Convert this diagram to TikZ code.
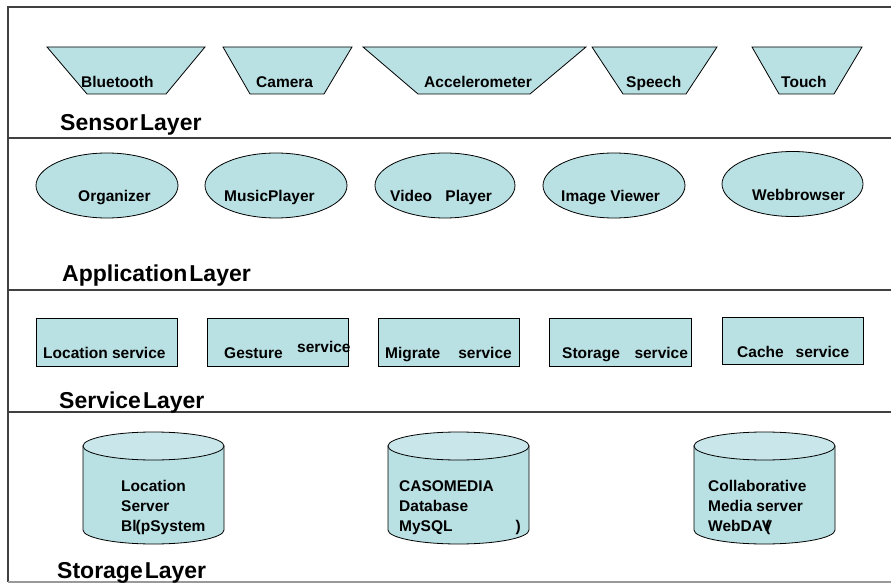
\documentclass[tikz,border=0pt]{standalone}
\usepackage{fontspec}
\setmainfont{Liberation Sans}
\definecolor{layerfill}{RGB}{185,224,227}
\definecolor{layertop}{RGB}{201,231,234}
\newcommand{\tightspace}{\spaceskip=2pt\relax}
\tikzset{
  shapebox/.style={fill=layerfill,draw=black,line width=0.8pt},
  itemtext/.style={font=\fontsize{15.5}{20}\selectfont\bfseries,inner sep=0pt,anchor=base west},
  storetext/.style={font=\fontsize{15.5}{20}\selectfont\bfseries,inner sep=0pt,anchor=north west,align=left},
  layertext/.style={font=\fontsize{23}{26}\selectfont\bfseries\tightspace,inner sep=0pt,anchor=base west},
  frameline/.style={draw=black!75,line width=1.2pt}
}

\begin{document}
\begin{tikzpicture}[x=1pt,y=-1pt]
  \useasboundingbox (0,0) rectangle (891,585);
  %
  % Frame and layer borders
  \draw[frameline] (8,582) -- (8,7) -- (891,7);
  \draw[frameline] (8,138) -- (891,138);
  \draw[frameline] (8,290) -- (891,290);
  \draw[frameline] (8,412) -- (891,412);
  \draw[draw=black!40,line width=1.2pt] (8,582) -- (891,582);
  %
  % Sensor layer
  \filldraw[shapebox] (47,47) -- (205,47) -- (166,94) -- (87,94) -- cycle;
  \filldraw[shapebox] (223,47) -- (352,47) -- (324,94) -- (250,94) -- cycle;
  \filldraw[shapebox] (363,47) -- (586,47) -- (530,94) -- (418,94) -- cycle;
  \filldraw[shapebox] (592,47) -- (717,47) -- (686,94) -- (623,94) -- cycle;
  \filldraw[shapebox] (752,47) -- (862,47) -- (834,94) -- (779,94) -- cycle;
  \node[itemtext] (bluetooth) at (81,88)  {Bluetooth};
  \node[itemtext] (camera)    at (256,88) {Camera};
  \node[itemtext] (accel)     at (424,88) {Accelerometer};
  \node[itemtext] (speech)    at (626,88) {Speech};
  \node[itemtext] (touch)     at (781,88) {Touch};
  \node[layertext] (sensorlayer) at (60,131) {Sensor Layer};
  %
  % Application layer
  \filldraw[shapebox] (107,185.5)   ellipse [x radius=71pt,y radius=32.5pt];
  \filldraw[shapebox] (276,185.5)   ellipse [x radius=71pt,y radius=32.5pt];
  \filldraw[shapebox] (445,185.5)   ellipse [x radius=70pt,y radius=32.5pt];
  \filldraw[shapebox] (614,185.5)   ellipse [x radius=71pt,y radius=32.5pt];
  \filldraw[shapebox] (792.5,184) ellipse [x radius=70.5pt,y radius=32.5pt];
  \node[itemtext] (organizer) at (78,202)  {Organizer};
  \node[itemtext] (music)     at (224,202) {MusicPlayer};
  \node[itemtext] (video)     at (390,202) {Video\hspace{9pt} Player};
  \node[itemtext] (image)     at (561,202) {Image Viewer};
  \node[itemtext] (browser)   at (752,201) {Webbrowser};
  \node[layertext] (applayer) at (62,282) {Application Layer};
  %
  % Service layer
  \filldraw[shapebox] (36,318) rectangle (177,366);
  \filldraw[shapebox] (207,318) rectangle (348,366);
  \filldraw[shapebox] (378,318) rectangle (519,366);
  \filldraw[shapebox] (549,318) rectangle (691,366);
  \filldraw[shapebox] (722,317) rectangle (863,364);
  \node[itemtext] (locserv)   at (43,358)  {Location service};
  \node[itemtext] (gestserv)  at (224,358) {Gesture\hspace{14.4pt}\raisebox{6pt}{service}};
  \node[itemtext] (migserv)   at (385,358) {Migrate\hspace{18pt}service};
  \node[itemtext] (storserv)  at (562,358) {Storage\hspace{14.6pt}service};
  \node[itemtext] (cacheserv) at (737,357) {Cache\hspace{12pt}service};
  \node[layertext] (servlayer) at (59,408) {Service Layer};
  %
  % Storage layer
  \foreach \cx in {153.5,458.5,764.5}{
    \filldraw[shapebox] (\cx-70.5,446) -- (\cx-70.5,530)
      arc [start angle=180,end angle=360,x radius=70.5pt,y radius=14pt]
      -- (\cx+70.5,446) -- cycle;
    \filldraw[shapebox,fill=layertop] (\cx,446) ellipse [x radius=70.5pt,y radius=14pt];
  }
  \node[storetext] (blipstore)  at (121,480) {Location\\Server\\Bl\kern-1pt(pSystem};
  \node[storetext] (casostore)  at (399,480) {CASOMEDIA\\Database\\MySQL\hspace{63pt})};
  \node[storetext] (mediastore) at (708,480) {Collaborative\\Media server\\WebDAV\kern-7pt(};
  \node[layertext] (storlayer) at (57,578) {Storage Layer};
  %
\end{tikzpicture}
\end{document}
